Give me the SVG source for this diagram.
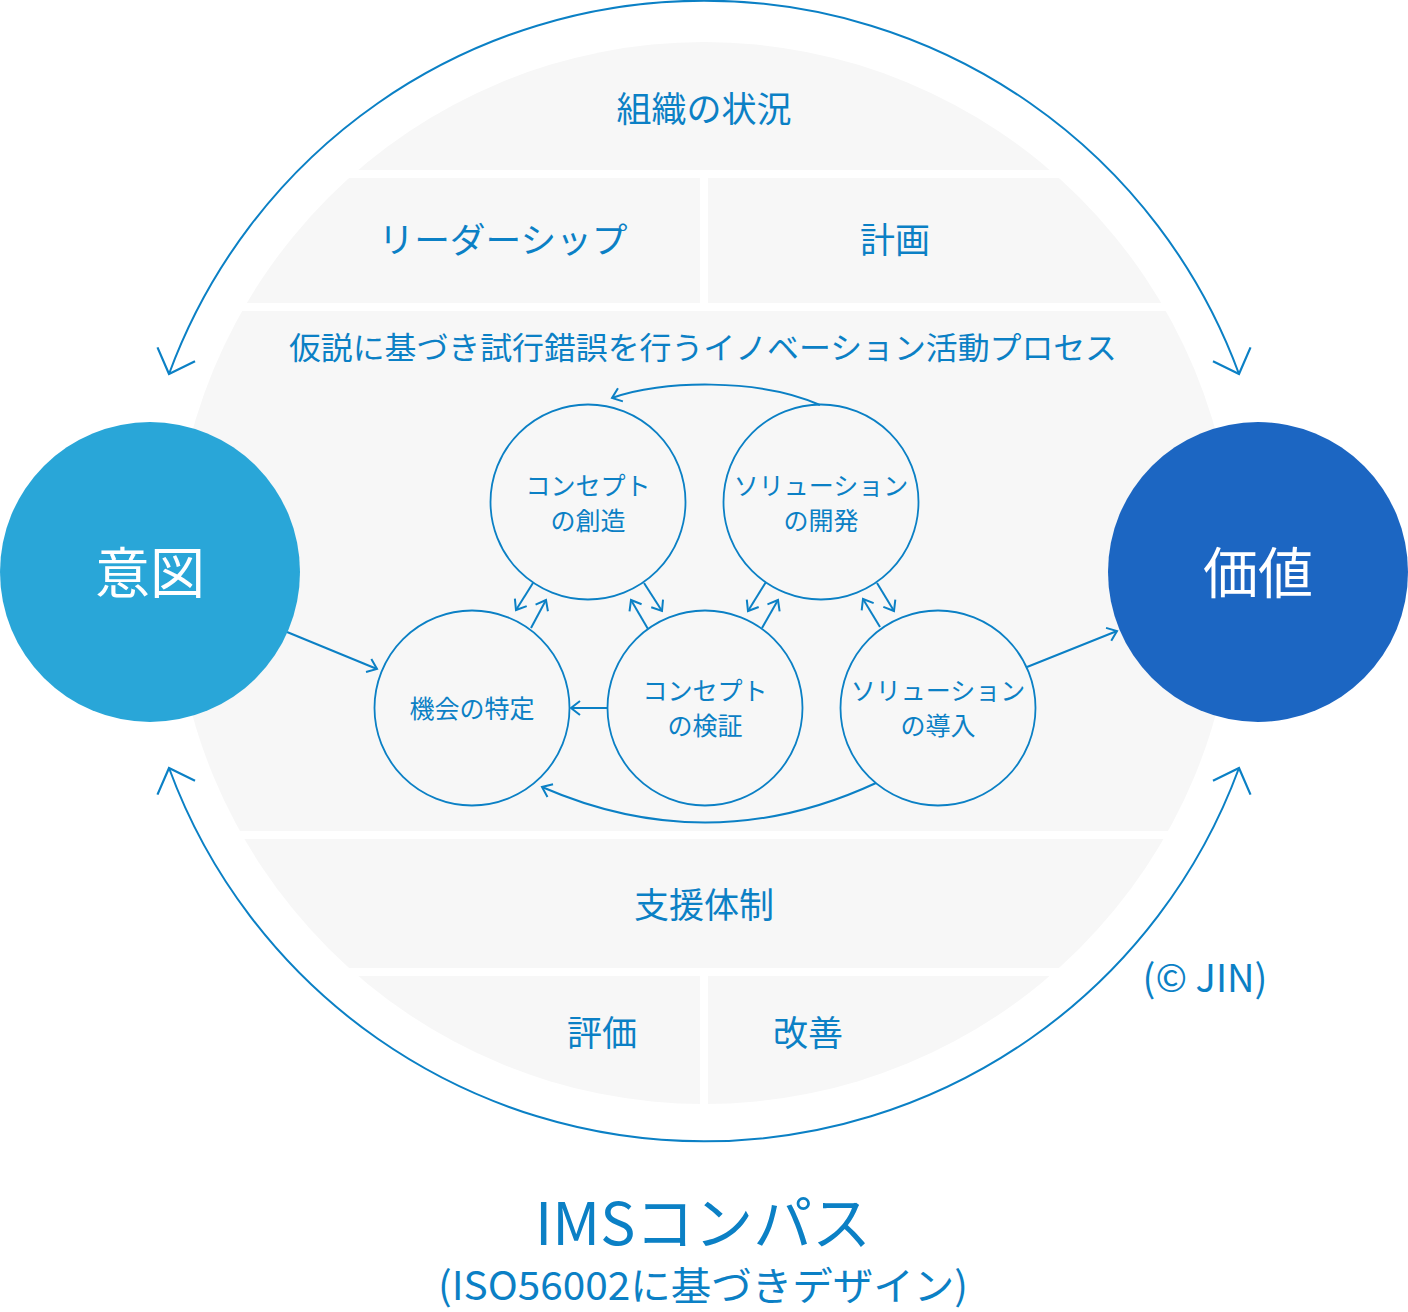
<svg xmlns="http://www.w3.org/2000/svg" width="1408" height="1312" viewBox="0 0 1408 1312">
<style>
.t{font-family:"Noto Sans CJK JP","Noto Sans",sans-serif;fill:#0b80c5;text-anchor:middle}
.band{font-size:35px}
.node{font-size:25px}
.big{font-size:55px;fill:#ffffff}
.ring{fill:none;stroke:#0b80c5;stroke-width:1.8}
.c{fill:none;stroke:#0b80c5;stroke-width:2}
</style>
<defs>
<clipPath id="disc"><circle cx="704" cy="573" r="531"/></clipPath>
<marker id="ah" markerUnits="userSpaceOnUse" markerWidth="30" markerHeight="30" viewBox="-15 -15 30 30" refX="0" refY="0" orient="auto-start-reverse"><path d="M-9,-7 L0,0 L-9,7" fill="none" stroke="#0b80c5" stroke-width="2"/></marker>
<marker id="ahL" markerUnits="userSpaceOnUse" markerWidth="60" markerHeight="60" viewBox="-30 -30 60 60" refX="0" refY="0" orient="auto-start-reverse"><path d="M-21,-20 L0,0 L-21,20" fill="none" stroke="#0b80c5" stroke-width="2.2"/></marker>
</defs>
<rect width="1408" height="1312" fill="#ffffff"/>
<g id="disc-bands" clip-path="url(#disc)" fill="#f7f7f7">
<rect x="0" y="42" width="1408" height="128"/>
<rect x="0" y="178" width="700" height="125"/>
<rect x="708" y="178" width="700" height="125"/>
<rect x="0" y="311" width="1408" height="520"/>
<rect x="0" y="839" width="1408" height="129"/>
<rect x="0" y="976" width="700" height="128"/>
<rect x="708" y="976" width="700" height="128"/>
</g>
<g id="band-labels">
<text class="t band" x="704" y="122">組織の状況</text>
<text class="t band" x="503" y="253" textLength="249" lengthAdjust="spacingAndGlyphs">リーダーシップ</text>
<text class="t band" x="895" y="253">計画</text>
<text class="t" style="font-size:31px" x="703" y="359" textLength="828" lengthAdjust="spacingAndGlyphs">仮説に基づき試行錯誤を行うイノベーション活動プロセス</text>
<text class="t band" x="704" y="918">支援体制</text>
<text class="t band" x="602" y="1046">評価</text>
<text class="t band" x="808" y="1046">改善</text>
</g>
<g id="connectors">
<path class="c" d="M169,374 A570,570 0 0 1 1239,374" marker-start="url(#ahL)" marker-end="url(#ahL)"/>
<path class="c" d="M169,768 A570,570 0 0 0 1239,768" marker-start="url(#ahL)" marker-end="url(#ahL)"/>
<path class="c" d="M287,632 L377,669" marker-end="url(#ah)"/>
<path class="c" d="M1027,667 L1117,631" marker-end="url(#ah)"/>
<path class="c" d="M607,708 L571,708" marker-end="url(#ah)"/>
<path class="c" d="M820,405 C760,378 660,380 612,398" marker-end="url(#ah)"/>
<path class="c" d="M876,783 Q710,860 542,787" marker-end="url(#ah)"/>
<path class="c" d="M533,583 L516,610" marker-end="url(#ah)"/>
<path class="c" d="M531,628 L546,600" marker-end="url(#ah)"/>
<path class="c" d="M644,583 L662,611" marker-end="url(#ah)"/>
<path class="c" d="M648,629 L631,600" marker-end="url(#ah)"/>
<path class="c" d="M766,582 L748,611" marker-end="url(#ah)"/>
<path class="c" d="M762,628 L778,600" marker-end="url(#ah)"/>
<path class="c" d="M877,583 L894,611" marker-end="url(#ah)"/>
<path class="c" d="M880,627 L863,599" marker-end="url(#ah)"/>
</g>
<g id="intent">
<circle cx="150" cy="572" r="150" fill="#29a6d8"/>
<text class="t big" x="150" y="593">意図</text>
</g>
<g id="value">
<circle cx="1258" cy="572" r="150" fill="#1c66c2"/>
<text class="t big" x="1258" y="593">価値</text>
</g>
<g id="opportunity">
<circle class="ring" cx="472" cy="708" r="97.5"/>
<text class="t node" x="472" y="718">機会の特定</text>
</g>
<g id="concept-creation">
<circle class="ring" cx="588" cy="502" r="97.5"/>
<text class="t node" x="588" y="495">コンセプト</text>
<text class="t node" x="588" y="530">の創造</text>
</g>
<g id="solution-dev">
<circle class="ring" cx="821" cy="502" r="97.5"/>
<text class="t node" x="821" y="495">ソリューション</text>
<text class="t node" x="821" y="530">の開発</text>
</g>
<g id="concept-validation">
<circle class="ring" cx="705" cy="708" r="97.5"/>
<text class="t node" x="705" y="700">コンセプト</text>
<text class="t node" x="705" y="735">の検証</text>
</g>
<g id="solution-deploy">
<circle class="ring" cx="938" cy="708" r="97.5"/>
<text class="t node" x="938" y="700">ソリューション</text>
<text class="t node" x="938" y="735">の導入</text>
</g>
<g id="captions">
<text class="t" style="font-size:38px" x="1205" y="992">(© JIN)</text>
<text class="t" style="font-size:59px" x="703" y="1245" textLength="336" lengthAdjust="spacingAndGlyphs">IMSコンパス</text>
<text class="t" style="font-size:39px" x="703" y="1300" textLength="530" lengthAdjust="spacingAndGlyphs">(ISO56002に基づきデザイン)</text>
</g>
</svg>
